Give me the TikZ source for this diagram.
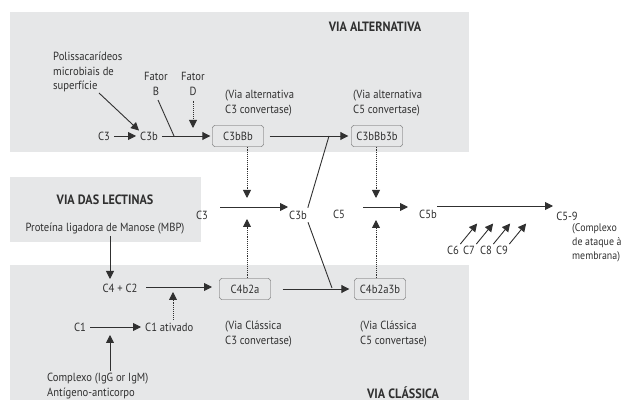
\documentclass[tikz,border=0pt]{standalone}
\usepackage{fontspec}
\setmainfont[FakeStretch=0.9]{PT Sans}
\usetikzlibrary{arrows.meta}
\definecolor{panel}{HTML}{E6E7E8}
\definecolor{ink}{HTML}{303030}
\begin{document}
\begin{tikzpicture}[x=1pt,y=-1pt,
  txt/.style={text=ink, font=\fontsize{11.8}{14.3}\selectfont, inner sep=0pt, align=center},
  ttl/.style={text=ink, font=\bfseries\fontsize{13.5}{15}\selectfont, inner sep=0pt},
  box/.style={draw=ink!80, rounded corners=2.5pt, fill=panel, minimum width=51pt, minimum height=21pt, text=ink, font=\fontsize{11.8}{14.3}\selectfont, inner sep=2pt},
  arr/.style={draw=ink, line width=0.9pt, -{Triangle[length=8pt,width=8pt]}},
  ln/.style={draw=ink, line width=0.9pt},
  dotarr/.style={draw=ink, line width=0.9pt, densely dotted, -{Triangle[length=8pt,width=8pt]}}]
\useasboundingbox (0,0) rectangle (624,403);
% panels
\fill[panel] (10,12) rectangle (469,152);
\fill[panel] (10,177) rectangle (201,242);
\fill[panel] (10,265) rectangle (469,400);

% ---- via alternativa
\node[ttl] (ttlalt) at (375,27) {VIA ALTERNATIVA};
\node[txt, align=left, anchor=west] (poly) at (53,72) {Polissacarídeos\\microbiais de\\superfície};
\node[txt] (fb) at (156,84) {Fator\\B};
\node[txt] (fd) at (193,84) {Fator\\D};
\node[txt, align=left, anchor=west] (c3conv) at (225,103) {(Via alternativa\\C3 convertase)};
\node[txt, align=left, anchor=west] (c5conv) at (353,103) {(Via alternativa\\C5 convertase)};
\node[txt] (c3a) at (104,136) {C3};
\node[txt] (c3ba) at (149,136) {C3b};
\node[box] (bb) at (238,136) {C3bBb};
\node[box] (bb3b) at (377,136) {C3bBb3b};

\coordinate (polyend) at (99,93);
\coordinate (jb) at (174,136);
\coordinate (jd) at (193,128);
\coordinate (jtop) at (329,136);

\draw[arr, shorten <=4pt, shorten >=4pt] (c3a.east) -- (c3ba.west);
\draw[arr] (polyend) -- ([shift={(-1,-1)}]c3ba.north west);
\draw[arr, shorten <=4pt, shorten >=2pt] (c3ba.east) -- (bb.west);
\draw[ln, shorten <=5pt] (fb.south) -- (jb);
\draw[dotarr, shorten <=5pt] (fd.south) -- (jd);
\draw[arr, shorten <=6pt, shorten >=3pt] (bb.east) -- (bb3b.west);

% ---- middle row
\node[txt] (c3m) at (202,215) {C3};
\node[txt] (c3bm) at (298,215) {C3b};
\node[txt] (c5m) at (339,214) {C5};
\node[txt] (c5bm) at (428,214) {C5b};
\node[txt] (c59) at (567,216) {C5-9};
\node[txt, align=left, anchor=west, font=\fontsize{11}{14}\selectfont] (mac) at (572,243) {(Complexo\\de ataque à\\membrana)};

\coordinate (m1s) at (220,207); \coordinate (m1e) at (288,207);
\coordinate (m2s) at (363,207); \coordinate (m2e) at (408,207);
\coordinate (m3s) at (437,206); \coordinate (m3e) at (553,206);
\draw[arr] (m1s) -- (m1e);
\draw[arr] (m2s) -- (m2e);
\draw[arr] (m3s) -- (m3e);

\coordinate (d1e) at (247,198);
\coordinate (d2e) at (247,219);
\coordinate (d3e) at (376,198);
\coordinate (d4e) at (376,220);
\draw[dotarr] (bb.south -| d1e) -- (d1e);
\draw[dotarr] (bb3b.south -| d3e) -- (d3e);

\draw[ln, shorten <=3pt] (c3bm.north east) -- (jtop);

\node[txt] (c6) at (453,250) {C6};
\node[txt] (c7) at (469,250) {C7};
\node[txt] (c8) at (486,250) {C8};
\node[txt] (c9) at (502,250) {C9};
\foreach \n in {c6,c7,c8,c9}
  \draw[arr, shorten <=2pt] (\n.north east) -- ++(18,-22);

% ---- lectinas
\node[ttl] (ttllec) at (105,200) {VIA DAS LECTINAS};
\node[txt] (mbp) at (105,229) {Proteína ligadora de Manose (MBP)};

% ---- via classica
\node[txt] (c4c2) at (120,288) {C4 + C2};
\node[box] (c4b2a) at (245,289) {C4b2a};
\node[box] (c4b2a3b) at (380,289) {C4b2a3b};
\node[txt] (c1) at (80,327) {C1};
\node[txt, anchor=west] (c1at) at (145,327) {C1 ativado};
\node[txt, align=left, anchor=west] (cplx) at (47,386) {Complexo (IgG or IgM)\\Antígeno-anticorpo};
\node[txt, align=left, anchor=west] (cc3conv) at (225,334) {(Via Clássica\\C3 convertase)};
\node[txt, align=left, anchor=west] (cc5conv) at (360,334) {(Via Clássica\\C5 convertase)};
\node[ttl] (ttlcla) at (403,393) {VIA CLÁSSICA};

\coordinate (lecs) at (110,236); \coordinate (lece) at (110,279);
\draw[arr] (lecs) -- (lece);
\coordinate (b1s) at (146,287); \coordinate (b1e) at (212,287);
\draw[arr] (b1s) -- (b1e);
\coordinate (jc) at (173,292);
\draw[dotarr, shorten <=3pt] (c1at.north -| jc) -- (jc);
\draw[arr, shorten <=4pt, shorten >=4pt] (c1.east) -- (c1at.west);
\coordinate (cxs) at (110,371); \coordinate (cxe) at (110,335);
\draw[arr] (cxs) -- (cxe);
\draw[arr, shorten <=12pt, shorten >=5pt] (c4b2a.east) -- (c4b2a3b.west);
\coordinate (jbot) at (332,288);
\draw[ln, shorten <=3pt] (c3bm.south east) -- (jbot);
\draw[dotarr] (c4b2a.north -| d2e) -- (d2e);
\draw[dotarr] (c4b2a3b.north -| d4e) -- (d4e);
\end{tikzpicture}
\end{document}
